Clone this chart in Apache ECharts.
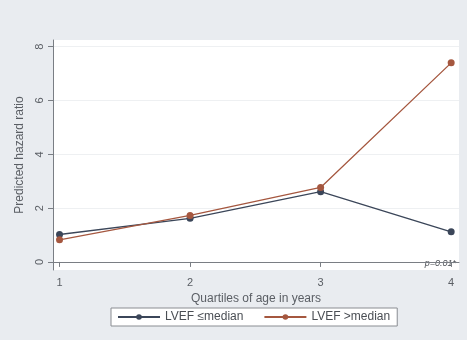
<!DOCTYPE html>
<html>
<head>
<meta charset="utf-8">
<script src="https://cdn.jsdelivr.net/npm/echarts@6/dist/echarts.min.js"></script>
<style>
  html, body { margin: 0; padding: 0; background: #e9ecf0; }
  #chart { width: 467px; height: 340px; }
</style>
</head>
<body>
<div id="chart"></div>
<script>
// Quartiles of age (x) and predicted hazard ratios per LVEF group
const quartiles = [1, 2, 3, 4];
const lvefLow = [1.02, 1.62, 2.61, 1.12];
const lvefHigh = [0.82, 1.73, 2.77, 7.40];
const yTicks = [0, 2, 4, 6, 8];
const seriesNames = ['LVEF \u2264median', 'LVEF >median'];

const chart = echarts.init(document.getElementById('chart'));

const axisColor = '#7a7e84';
const textColor = '#5a5e64';
const font = 'Liberation Sans, Arial, sans-serif';

chart.setOption({
  backgroundColor: '#e9ecf0',
  animation: false,
  grid: { left: 53, right: 8, top: 40, bottom: 70, backgroundColor: '#ffffff', show: true, borderWidth: 0 },
  xAxis: {
    type: 'value',
    min: 0.95,
    max: 4.06,
    name: 'Quartiles of age in years',
    nameLocation: 'middle',
    nameGap: 22,
    nameTextStyle: { color: textColor, fontSize: 12, fontFamily: font },
    axisLine: { show: true, lineStyle: { color: axisColor, width: 1 } },
    axisTick: { show: true, length: 5, lineStyle: { color: axisColor }, customValues: quartiles },
    axisLabel: { color: textColor, fontSize: 11, fontFamily: font, margin: 7, customValues: quartiles },
    splitLine: { show: false }
  },
  yAxis: {
    type: 'value',
    min: -0.3,
    max: 8.25,
    name: 'Predicted hazard ratio',
    nameLocation: 'middle',
    nameGap: 26,
    nameTextStyle: { color: textColor, fontSize: 12, fontFamily: font },
    axisLine: { show: true, lineStyle: { color: axisColor, width: 1 } },
    axisTick: { show: true, length: 5, lineStyle: { color: axisColor }, customValues: yTicks },
    axisLabel: { color: textColor, fontSize: 11, fontFamily: font, rotate: 90, margin: 8, customValues: yTicks },
    splitLine: { show: true, lineStyle: { color: '#eef0f2', width: 1 } }
  },
  legend: {
    left: 111,
    top: 308,
    data: seriesNames,
    backgroundColor: '#ffffff',
    borderColor: '#8a8d92',
    borderWidth: 1,
    borderRadius: 0,
    padding: [3, 7, 3, 6],
    itemGap: 20,
    itemWidth: 42,
    itemHeight: 7,
    textStyle: { color: '#4a4e54', fontSize: 12, fontFamily: font }
  },
  graphic: [{
    type: 'text',
    right: 11,
    top: 259,
    style: { text: 'p=0.01*', fill: '#4a4e54', font: 'italic 9px ' + font }
  }],
  series: [
    {
      name: seriesNames[0],
      type: 'line',
      data: quartiles.map((q, i) => [q, lvefLow[i]]),
      symbol: 'circle',
      symbolSize: 7,
      itemStyle: { color: '#3b4659' },
      lineStyle: { color: '#3b4659', width: 1.3 }
    },
    {
      name: seriesNames[1],
      type: 'line',
      data: quartiles.map((q, i) => [q, lvefHigh[i]]),
      symbol: 'circle',
      symbolSize: 7,
      itemStyle: { color: '#a5573f' },
      lineStyle: { color: '#a5573f', width: 1.3 }
    }
  ]
});
</script>
</body>
</html>
